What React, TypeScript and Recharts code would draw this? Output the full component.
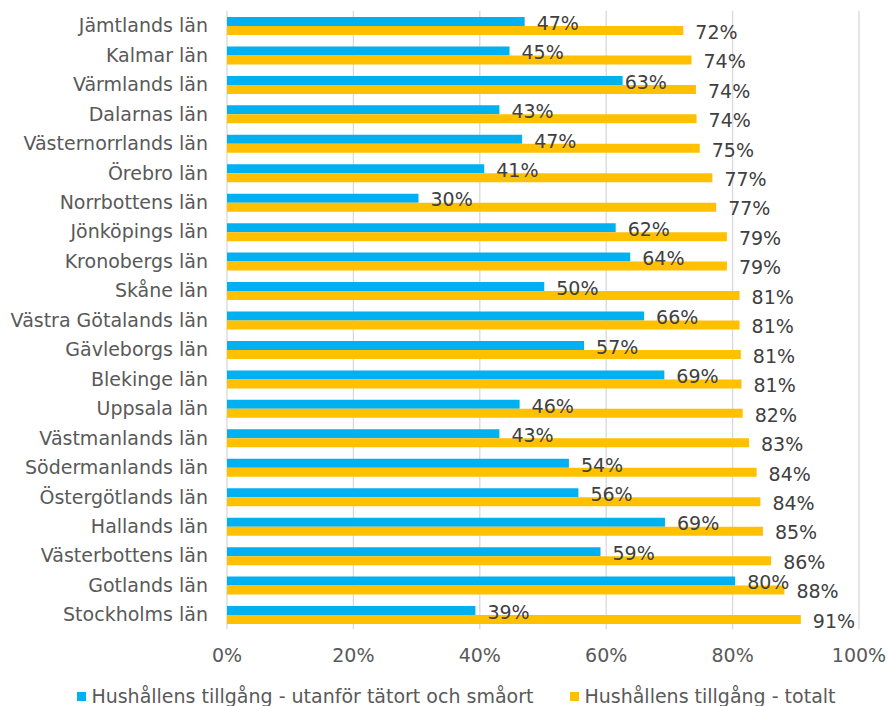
import React from 'react';
import { BarChart, Bar, XAxis, YAxis, CartesianGrid, LabelList, Legend } from 'recharts';

const regions = [
  'Jämtlands län',
  'Kalmar län',
  'Värmlands län',
  'Dalarnas län',
  'Västernorrlands län',
  'Örebro län',
  'Norrbottens län',
  'Jönköpings län',
  'Kronobergs län',
  'Skåne län',
  'Västra Götalands län',
  'Gävleborgs län',
  'Blekinge län',
  'Uppsala län',
  'Västmanlands län',
  'Södermanlands län',
  'Östergötlands län',
  'Hallands län',
  'Västerbottens län',
  'Gotlands län',
  'Stockholms län',
];

const ruralShare = [47.1, 44.7, 62.6, 43.1, 46.7, 40.7, 30.3, 61.5, 63.8, 50.2, 66.0, 56.5, 69.2, 46.3, 43.1, 54.1, 55.6, 69.3, 59.1, 80.4, 39.3];
const totalShare = [72.2, 73.5, 74.2, 74.3, 74.8, 76.8, 77.4, 79.1, 79.1, 81.1, 81.1, 81.3, 81.4, 81.6, 82.6, 83.8, 84.4, 84.8, 86.1, 88.2, 90.8];

const xTicks = [0, 20, 40, 60, 80, 100];
const seriesNames = ['Hushållens tillgång - utanför tätort och småort', 'Hushållens tillgång - totalt'];
const seriesColors = ['#00B0F0', '#FFC000'];

const data = regions.map((name, i) => ({ name, rural: ruralShare[i], total: totalShare[i] }));

const FONT = '"DejaVu Sans", Verdana, sans-serif';
const AXIS_COLOR = '#595959';
const LABEL_COLOR = '#404040';

// Excel had one label dragged close to its bar
const labelNudge: Record<string, number> = { 'Värmlands län': -10 };

const makeLabel = (key: string) => (props: any) => {
  const vb = props.viewBox || props;
  const x = Number(vb.x);
  const y = Number(vb.y);
  const w = Number(vb.width);
  const h = Number(vb.height);
  const name = regions[props.index];
  const nudge = key === 'rural' && labelNudge[name] ? labelNudge[name] : 0;
  return (
    <text x={x + w + 12 + nudge} y={y + h / 2 + 8.3} fill={LABEL_COLOR} fontSize={19} fontFamily={FONT}>
      {Math.round(Number(props.value))}%
    </text>
  );
};

const renderLegend = () => (
  <div
    style={{
      display: 'flex',
      alignItems: 'flex-start',
      paddingLeft: 76.7,
      height: 22,
      fontFamily: FONT,
      fontSize: 19,
      lineHeight: '22px',
      color: AXIS_COLOR,
      whiteSpace: 'nowrap',
    }}
  >
    {seriesNames.map((n, i) => (
      <div key={n} style={{ display: 'flex', alignItems: 'flex-start', marginRight: i === 0 ? 36.3 : 0 }}>
        <span style={{ display: 'inline-block', width: 9, height: 9, background: seriesColors[i], marginTop: 7, marginRight: 5.7 }} />
        <span>{n}</span>
      </div>
    ))}
  </div>
);

export default function App() {
  return (
    <div style={{ position: 'absolute', left: 0, top: 0, width: 888, height: 706, background: '#fff' }}>
      <BarChart
        width={888}
        height={706}
        data={data}
        layout="vertical"
        margin={{ top: 10.8, right: 29, bottom: 0, left: 0 }}
        barCategoryGap="21%"
        barGap={0}
        style={{ fontFamily: FONT }}
      >
        <CartesianGrid horizontal={false} vertical stroke="#D9D9D9" strokeWidth={1.3} />
        <XAxis
          type="number"
          domain={[0, 100]}
          ticks={xTicks}
          tickFormatter={(v: number) => `${v}%`}
          axisLine={false}
          tickLine={false}
          tickSize={0}
          tickMargin={19}
          height={76.7}
          interval={0}
          tick={{ fill: AXIS_COLOR, fontSize: 19, fontFamily: FONT }}
        />
        <YAxis
          type="category"
          dataKey="name"
          width={227}
          axisLine={false}
          tickLine={false}
          tickSize={0}
          tickMargin={19}
          interval={0}
          tick={{ fill: AXIS_COLOR, fontSize: 19, fontFamily: FONT }}
        />
        <Bar dataKey="rural" name={seriesNames[0]} fill={seriesColors[0]} isAnimationActive={false}>
          <LabelList dataKey="rural" content={makeLabel('rural')} />
        </Bar>
        <Bar dataKey="total" name={seriesNames[1]} fill={seriesColors[1]} isAnimationActive={false}>
          <LabelList dataKey="total" content={makeLabel('total')} />
        </Bar>
        <Legend
          layout="horizontal"
          verticalAlign="middle"
          align="center"
          wrapperStyle={{ top: 684.7, left: 0, width: 888, height: 22 }}
          content={renderLegend}
        />
      </BarChart>
    </div>
  );
}
